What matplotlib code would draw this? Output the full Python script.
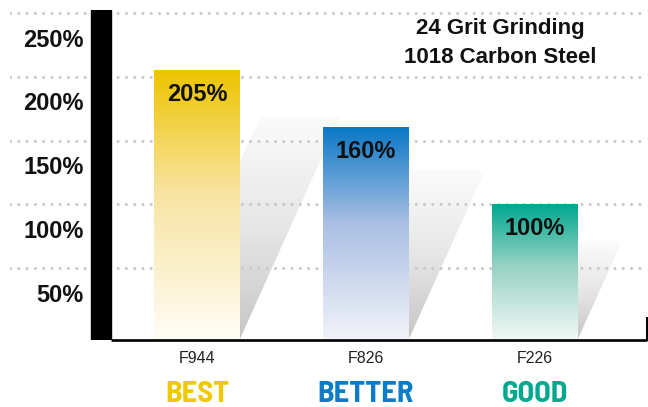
import matplotlib
matplotlib.use("Agg")
import matplotlib.pyplot as plt
import matplotlib.transforms as mtransforms
from matplotlib.colors import LinearSegmentedColormap
from matplotlib.patches import Polygon
import numpy as np

products = ["F944", "F826", "F226"]
ratings = ["BEST", "BETTER", "GOOD"]
performance = [205, 160, 100]
tick_values = [50, 100, 150, 200, 250]
tick_labels = ["50%", "100%", "150%", "200%", "250%"]
title_lines = ["24 Grit Grinding", "1018 Carbon Steel"]

rating_colors = ["#f0c800", "#0a7cc8", "#00a88e"]
# bottom, middle, top of each bar's fade
bar_fades = [
    ["#fffdf6", "#f8e3a0", "#eec400"],
    ["#f2f3f9", "#a9bfe3", "#0a78c6"],
    ["#f2f8f6", "#96d2c3", "#00a88f"],
]

plt.rcParams["font.family"] = ["Liberation Sans", "DejaVu Sans"]

fig = plt.figure(figsize=(6.48, 4.07), dpi=100)
ax = fig.add_axes([10 / 648, 67 / 407, 637 / 648, 330 / 407])
ax.set_xlim(-1.1065, 2.6627)
ax.set_ylim(-6.27, 252.5)
ax.axis("off")

px_x = 637 / (2.6627 + 1.1065)
px_y = 330 / (252.5 + 6.27)
base = ax.get_ylim()[0]
width = 0.503
x = np.arange(len(products))

# dotted grid
for v in tick_values:
    ax.axhline(v, color="#c8c8c8", lw=2.2, linestyle=(0, (0.01, 2.7)),
               dash_capstyle="round", zorder=1)

# tick labels sit between the grid lines
lab_tr = mtransforms.offset_copy(
    mtransforms.blended_transform_factory(ax.transAxes, ax.transData),
    fig, y=-27, units="dots")
for v, t in zip(tick_values, tick_labels):
    ax.text(0.116, v, t, transform=lab_tr, ha="right", va="center",
            fontsize=17, fontweight="bold", color="#111111")

# bars with vertical fade + slanted shadow
grad = np.linspace(0, 1, 256).reshape(-1, 1)
bars = ax.bar(x, [v - base for v in performance], width, bottom=base,
              facecolor="none", edgecolor="none", zorder=2)
shade = LinearSegmentedColormap.from_list("shade", ["#c6c6c6", "#e6e6e6", "#fbfbfb"])
for i, (bar, v) in enumerate(zip(bars, performance)):
    xl = bar.get_x()
    xr = xl + bar.get_width()
    cmap = LinearSegmentedColormap.from_list(
        f"fade{i}", [(0, bar_fades[i][0]), (0.55, bar_fades[i][1]), (1, bar_fades[i][2])])
    ax.imshow(grad, cmap=cmap, origin="lower", aspect="auto",
              extent=(xl, xr, base, v), zorder=2, interpolation="bilinear")

    top = 0.93 * v - 22
    s = 0.45 * (top - base) * px_y / px_x
    tw = 0.94 * width
    poly = Polygon([(xr - tw, base), (xr, base), (xr + s, top), (xr + s - tw, top)],
                   closed=True, facecolor="none", edgecolor="none")
    ax.add_patch(poly)
    im = ax.imshow(grad, cmap=shade, origin="lower", aspect="auto",
                   extent=(xr - tw, xr + s, base, top), zorder=0.5,
                   interpolation="bilinear")
    im.set_clip_path(poly)

    val_tr = mtransforms.offset_copy(ax.transData, fig, y=-24, units="dots")
    ax.text(x[i], v, f"{v}%", transform=val_tr, ha="center", va="center",
            fontsize=17, fontweight="bold", color="#111111", zorder=4)

ax.set_xlim(-1.1065, 2.6627)
ax.set_ylim(-6.27, 252.5)

# thick black left axis and baseline
ax.axvspan(-0.627, -0.509, color="black", zorder=3)
x_end = ax.get_xlim()[1] - 0.5 / px_x
ax.plot([-0.509, x_end], [base, base], color="black", lw=1.9,
        solid_capstyle="butt", clip_on=False, zorder=3)
ax.plot([x_end, x_end], [base, base + 22 / px_y], color="black", lw=1.4,
        clip_on=False, zorder=3)

# category labels under the axis
cat_tr = mtransforms.blended_transform_factory(ax.transData, ax.transAxes)
for i in range(len(products)):
    ax.text(x[i], -0.055, products[i], transform=cat_tr, ha="center", va="center",
            fontsize=11.5, color="#222222")
    ax.text(x[i], -0.165, ratings[i], transform=cat_tr, ha="center", va="center",
            fontsize=22, fontweight="bold", color=rating_colors[i],
            family=["Barlow Semi Condensed", "Barlow Condensed", "Liberation Sans"])

ax.text(0.769, 0.945, title_lines[0], transform=ax.transAxes, ha="center",
        va="center", fontsize=16, fontweight="bold", color="#111111")
ax.text(0.769, 0.855, title_lines[1], transform=ax.transAxes, ha="center",
        va="center", fontsize=16, fontweight="bold", color="#111111")

fig.savefig("out.png", dpi=100)
